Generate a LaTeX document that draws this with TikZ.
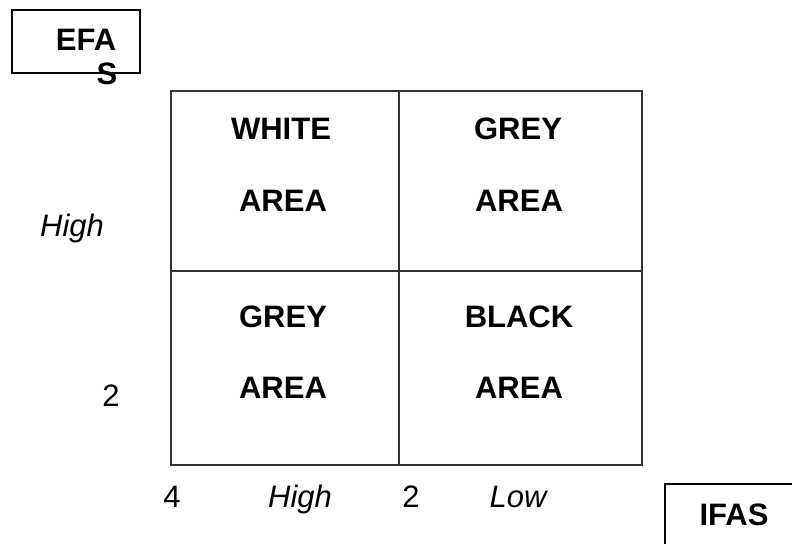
\documentclass[tikz,border=0pt]{standalone}
\usepackage{fontspec}
\setmainfont{Liberation Sans}
\usepackage{tikz}
\usetikzlibrary{positioning,calc}

\tikzset{
    celltext/.style={font=\fontsize{31}{37}\selectfont\bfseries, inner sep=0pt, anchor=base},
    axistext/.style={font=\fontsize{31}{37}\selectfont, inner sep=0pt, anchor=base},
    axisital/.style={axistext, font=\fontsize{31}{37}\selectfont\itshape},
    gridline/.style={line width=1.1pt, black!80}
}

\begin{document}
\begin{tikzpicture}[x=1pt,y=-1pt]
    \useasboundingbox (0,0) rectangle (792,544);

    % EFAS box
    \draw[line width=1.8pt] (12,10) rectangle (140,73);
    \node[celltext] (efa) at (86,50) {EFA};
    \node[celltext] (efas) at (107,84) {S};

    % Matrix
    \draw[gridline] (171,91) rectangle (642,465);
    \draw[gridline] (399,91) -- (399,465);
    \draw[gridline] (171,271) -- (642,271);

    % Cells
    \node[celltext] (wh) at (281,139) {WHITE};
    \node[celltext] (wha) at (283,211) {AREA};
    \node[celltext] (gr) at (518,139) {GREY};
    \node[celltext] (gra) at (519,211) {AREA};
    \node[celltext] (gl) at (283,327) {GREY};
    \node[celltext] (gla) at (283,398) {AREA};
    \node[celltext] (bl) at (519,327) {BLACK};
    \node[celltext] (bla) at (519,398) {AREA};

    % EFAS axis
    \node[axisital] (efahigh) at (72,236) {High};
    \node[axistext] (efamid) at (111,406) {2};

    % IFAS axis
    \node[axistext] (ifasfour) at (172,507) {4};
    \node[axisital] (ifashigh) at (300,507) {High};
    \node[axistext] (ifastwo) at (411,507) {2};
    \node[axisital] (ifaslow) at (518,507) {Low};

    % IFAS box
    \draw[line width=1.8pt] (665,544) -- (665,484) -- (792,484);
    \node[celltext] (ifas) at (734,525) {IFAS};
\end{tikzpicture}
\end{document}
